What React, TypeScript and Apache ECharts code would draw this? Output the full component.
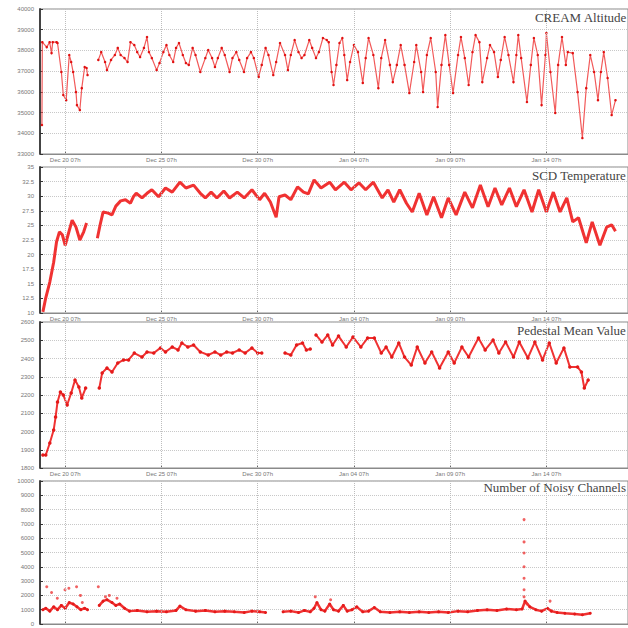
import React, { useEffect, useRef } from "react";
import * as echarts from "echarts";

// ---------- x axis (days since launch) ----------
const xTickDays = [1.31, 6.31, 11.31, 16.31, 21.31, 26.31];
const xTickLabels = ["Dec 20 07h", "Dec 25 07h", "Dec 30 07h", "Jan 04 07h", "Jan 09 07h", "Jan 14 07h"];

// ---------- Panel 1: CREAM Altitude (m) ----------
const altDays = [0.10,0.12,0.35,0.50,0.60,0.66,0.86,0.91,1.11,1.21,1.36,1.52,1.62,1.72,1.87,1.92,2.07,2.17,2.32,2.42,2.47,2.75,
3.03,3.18,3.38,3.48,3.69,3.89,4.04,4.19,4.39,4.55,4.70,4.90,5.05,5.20,5.40,5.56,5.66,5.81,6.06,6.21,6.41,6.57,6.72,6.92,7.07,7.22,7.42,7.58,7.73,7.93,8.08,8.33,8.59,8.74,8.94,9.09,9.24,9.44,9.60,9.85,10.00,10.20,10.35,10.60,10.76,10.96,11.11,11.36,11.52,11.72,11.87,12.12,12.27,12.47,12.73,12.88,13.03,13.23,13.43,13.59,13.74,13.99,14.14,14.34,14.49,14.70,14.90,15.00,15.15,15.25,15.40,15.56,15.71,15.81,15.96,16.11,16.31,16.52,16.77,16.92,17.07,17.32,17.58,17.73,17.93,18.18,18.33,18.54,18.74,18.94,19.19,19.44,19.55,19.80,19.90,20.10,20.30,20.56,20.66,20.86,21.06,21.26,21.46,21.72,21.87,22.07,22.27,22.47,22.63,22.83,22.98,23.23,23.38,23.59,23.79,23.94,24.14,24.34,24.60,24.75,24.85,25.00,25.30,25.50,25.66,25.86,26.06,26.26,26.31,26.52,26.77,26.92,27.12,27.32,27.42,27.68,27.93,28.18,28.38,28.59,28.79,28.99,29.14,29.29,29.49,29.70,29.90];
const altValues = [34400,38400,38160,38400,37870,38400,38400,38360,36960,35850,35600,37780,37440,36960,35990,35360,35120,36180,37200,37150,36810,null,
37540,37920,37440,37050,37540,37780,38120,37780,37630,37440,38400,38260,37920,37680,38120,38650,37920,37630,37050,37390,37920,38260,37780,37440,38120,38360,37780,37390,37300,38120,37780,36960,37630,38020,37630,37200,37630,38120,37780,36960,37630,37920,37540,36960,37630,37920,37630,36720,37300,38120,37780,36810,37440,38360,37780,37050,37780,38500,37920,37630,37780,38500,38120,37630,37920,38600,38500,38400,36960,36330,37300,38360,38600,37780,36570,37440,38260,37920,36430,37630,38600,37780,36180,37630,38500,37300,36470,37300,38260,37300,35940,37440,38260,36960,35990,37780,38600,36960,35270,37300,38740,37300,35940,37780,38650,37630,36330,37920,38740,38400,36470,37630,38260,37920,36720,37540,38650,37780,36470,37780,38740,37630,35510,37300,38600,37780,35360,37780,38840,36960,34980,37300,38650,37300,37920,37870,35990,33770,36180,37780,36960,35600,36960,37920,36670,34880,35600];

// ---------- Panel 2: SCD Temperature ----------
const tempDays = [0.15,0.30,0.51,0.71,0.86,1.01,1.16,1.31,1.46,1.67,1.87,2.07,2.27,2.42,2.70,
2.98,3.13,3.28,3.54,3.74,3.94,4.19,4.44,4.70,4.85,5.00,5.30,5.56,5.81,6.16,6.52,6.87,7.27,7.58,7.98,8.33,8.59,8.89,9.19,9.55,9.85,10.25,10.61,11.01,11.41,11.67,11.97,12.27,12.42,12.73,13.03,13.38,13.69,13.94,14.24,14.60,15.05,15.35,15.81,16.16,16.57,16.92,17.32,17.78,18.08,18.38,18.69,19.04,19.34,19.70,20.10,20.45,20.86,21.21,21.62,22.07,22.47,22.88,23.28,23.64,23.99,24.39,24.75,25.15,25.56,25.91,26.31,26.67,27.02,27.37,27.68,27.98,28.38,28.69,29.09,29.44,29.70,29.90];
const tempValues = [10.2,12.6,15.3,18.7,22.2,23.9,23.4,21.6,23.4,25.9,24.7,22.5,23.9,25.4,null,
22.8,25.2,27.3,27.1,26.8,28.3,29.2,29.4,28.8,29.9,30.5,29.7,30.5,31.1,29.9,31.4,30.7,32.4,31.4,31.9,30.5,29.7,30.7,29.7,30.9,29.7,30.7,29.7,31.1,29.4,30.5,29.0,26.4,29.9,30.2,29.4,31.6,30.7,30.4,32.8,31.4,32.4,31.1,32.4,31.1,32.3,31.1,32.4,29.7,31.1,29.0,31.1,28.8,27.3,30.5,26.8,29.9,26.3,29.7,26.8,30.7,28.0,31.9,28.2,31.4,28.5,31.4,28.2,31.1,27.3,31.1,27.3,30.7,27.3,29.7,25.6,26.3,22.0,25.6,21.6,24.7,25.1,24.0];

// ---------- Panel 3: Pedestal Mean Value ----------
const pedDays = [0.15,0.30,0.51,0.71,0.81,0.91,1.06,1.21,1.41,1.62,1.82,2.02,2.17,2.37,2.70,
3.08,3.23,3.48,3.74,4.04,4.34,4.60,4.90,5.30,5.56,5.91,6.26,6.52,6.87,7.17,7.37,7.68,7.98,8.33,8.74,9.09,9.39,9.70,10.00,10.35,10.66,11.01,11.31,11.52,12.10,
12.73,13.03,13.33,13.64,13.84,14.04,14.20,
14.34,14.65,14.95,15.20,15.51,15.91,16.26,16.67,17.02,17.37,17.73,17.98,18.28,18.64,18.94,19.29,19.60,20.00,20.35,20.76,21.21,21.52,21.92,22.27,22.78,23.13,23.54,23.84,24.19,24.60,24.90,25.35,25.71,26.11,26.46,26.82,27.22,27.53,27.93,28.13,28.28,28.48];
const pedValues = [1871,1871,1937,2008,2079,2162,2216,2200,2145,2211,2282,2244,2184,2238,null,
2238,2321,2348,2326,2375,2392,2392,2430,2408,2436,2430,2458,2436,2463,2447,2485,2463,2474,2436,2419,2436,2419,2436,2430,2447,2430,2458,2430,2430,null,
2430,2419,2474,2485,2447,2452,null,
2529,2490,2529,2474,2523,2463,2518,2463,2512,2512,2430,2463,2408,2485,2408,2364,2463,2375,2436,2348,2436,2375,2463,2408,2512,2447,2501,2430,2490,2408,2490,2403,2490,2392,2485,2375,2458,2353,2353,2326,2238,2282];

// ---------- Panel 4: Number of Noisy Channels ----------
const noisyDays = [0.15,0.30,0.51,0.71,0.91,1.11,1.31,1.52,1.72,1.92,2.12,2.32,2.47,2.75,
3.08,3.28,3.48,3.74,3.94,4.14,4.39,4.65,5.05,5.56,6.06,6.57,7.07,7.27,7.58,8.08,8.59,9.09,9.60,10.10,10.61,11.01,11.41,11.72,12.20,
12.63,13.03,13.43,13.74,14.04,14.24,14.39,14.60,14.80,15.05,15.25,15.51,15.76,15.96,16.21,16.46,16.77,17.07,17.37,17.68,18.18,18.69,19.19,19.70,20.20,20.71,21.21,21.72,22.22,22.73,23.23,23.74,24.24,24.75,25.05,25.20,25.45,25.76,26.06,26.36,26.57,26.87,27.27,27.78,28.18,28.59];
const noisyValues = [1000,1100,900,1200,1000,1300,1100,1500,1400,1200,1000,1100,1000,null,
1300,1600,1700,1500,1300,1400,1100,900,950,850,900,850,950,1250,1000,900,950,850,900,850,800,900,850,800,null,
850,900,800,950,850,1100,1500,1000,900,1400,1000,900,1300,900,1000,1200,850,900,1150,850,800,850,800,850,800,850,800,900,850,950,1000,950,1050,1000,1050,1600,1200,1000,900,1100,900,800,750,700,650,750];
const noisyOutDays = [0.35,0.60,0.90,1.30,1.50,1.90,2.10,2.20,3.03,3.40,3.60,4.00,14.30,15.10,25.15,25.15,25.15,25.15,25.15,25.15,25.15,25.30,26.50];
const noisyOutValues = [2600,2200,1800,2400,2500,2600,2000,1500,2600,1900,2000,1800,1900,1700,7300,5740,4970,4000,3200,2400,1900,1400,1600];

// ---------- y axis ranges ----------
const altAxis = { min: 33000, max: 40000, interval: 1000 };
const tempAxis = { min: 10, max: 35, interval: 2.5 };
const pedAxis = { min: 1800, max: 2600, interval: 100 };
const noisyAxis = { min: 0, max: 10000, interval: 1000 };

const titles = ["CREAM Altitude", "SCD Temperature", "Pedestal Mean Value", "Number of Noisy Channels"];

const pair = (xs: number[], ys: (number | null)[]) =>
  xs.map((x, i) => [x, ys[i] === null ? "-" : ys[i]]);

export default function App() {
  const ref = useRef<HTMLDivElement>(null);
  useEffect(() => {
    if (!ref.current) return;
    const chart = echarts.init(ref.current, null, { renderer: "svg" });
    const grids = [
      { left: 40, top: 9, width: 605, height: 145 },
      { left: 40, top: 167, width: 605, height: 146 },
      { left: 40, top: 322, width: 605, height: 146 },
      { left: 40, top: 481, width: 605, height: 143 },
    ].map((g) => ({ ...g, show: true, borderColor: "#8a8a8a", borderWidth: 1, backgroundColor: "#fff" }));

    const xAxes = grids.map((_, i) => ({
      type: "value",
      gridIndex: i,
      min: 0,
      max: 30.55,
      splitLine: { show: false },
      axisLine: { show: true, lineStyle: { color: "#8a8a8a", width: 1 } },
      axisTick: { show: true, inside: true, length: 3, customValues: xTickDays, lineStyle: { color: "#666" } },
      axisLabel: {
        show: i < 3,
        customValues: xTickDays,
        fontSize: 6,
        color: "#777",
        margin: 3,
        formatter: (v: number) => {
          const k = xTickDays.findIndex((t) => Math.abs(t - v) < 1e-6);
          return k >= 0 ? xTickLabels[k] : "";
        },
      },
    }));

    const yRanges = [altAxis, tempAxis, pedAxis, noisyAxis];
    const yAxes = yRanges.map((r, i) => ({
      type: "value",
      gridIndex: i,
      min: r.min,
      max: r.max,
      interval: r.interval,
      axisLine: { show: true, lineStyle: { color: "#444", width: 2 } },
      axisTick: { show: true, inside: true, length: 3, lineStyle: { color: "#333" } },
      axisLabel: { fontSize: 6, color: "#777", margin: 6, formatter: (v: number) => String(v) },
      splitLine: { show: true, lineStyle: { type: "dotted", color: "#c8c8c8", width: 1 } },
    }));

    const vLines = () => ({
      silent: true,
      symbol: ["none", "none"],
      label: { show: false },
      lineStyle: { type: "dotted", color: "#bdbdbd", width: 1 },
      data: xTickDays.map((d) => ({ xAxis: d })),
      animation: false,
    });

    const red = "#f03232";
    const series: any[] = [
      {
        type: "line", xAxisIndex: 0, yAxisIndex: 0,
        data: pair(altDays, altValues),
        showSymbol: true, symbol: "circle", symbolSize: 2.5,
        itemStyle: { color: "#e01010" },
        lineStyle: { color: "#f25a5a", width: 1.2 },
        markLine: vLines(),
      },
      {
        type: "line", xAxisIndex: 1, yAxisIndex: 1,
        data: pair(tempDays, tempValues),
        showSymbol: false,
        lineStyle: { color: red, width: 3 },
        markLine: vLines(),
      },
      {
        type: "line", xAxisIndex: 2, yAxisIndex: 2,
        data: pair(pedDays, pedValues),
        showSymbol: true, symbol: "circle", symbolSize: 3.5,
        itemStyle: { color: "#e41a1a" },
        lineStyle: { color: red, width: 2 },
        markLine: vLines(),
      },
      {
        type: "line", xAxisIndex: 3, yAxisIndex: 3,
        data: pair(noisyDays, noisyValues),
        showSymbol: true, symbol: "circle", symbolSize: 3,
        itemStyle: { color: "#e41a1a" },
        lineStyle: { color: red, width: 2.5 },
        markLine: vLines(),
      },
      {
        type: "scatter", xAxisIndex: 3, yAxisIndex: 3,
        data: pair(noisyOutDays, noisyOutValues),
        symbolSize: 3,
        itemStyle: { color: "#ee3a3a" },
      },
    ];

    const titleTops = [11, 169, 324, 481];
    const titleRights = [1, 2, 2, 2];
    chart.setOption({
      animation: false,
      backgroundColor: "#fff",
      title: titles.map((t, i) => ({
        text: t,
        right: titleRights[i],
        top: titleTops[i],
        padding: 0,
        textStyle: { fontFamily: "Liberation Serif", fontSize: 13, fontWeight: "normal", color: "#444" },
      })),
      grid: grids,
      xAxis: xAxes,
      yAxis: yAxes,
      series,
    });
    return () => chart.dispose();
  }, []);
  return <div ref={ref} style={{ position: "fixed", left: 0, top: 0, width: 628, height: 628 }} />;
}
